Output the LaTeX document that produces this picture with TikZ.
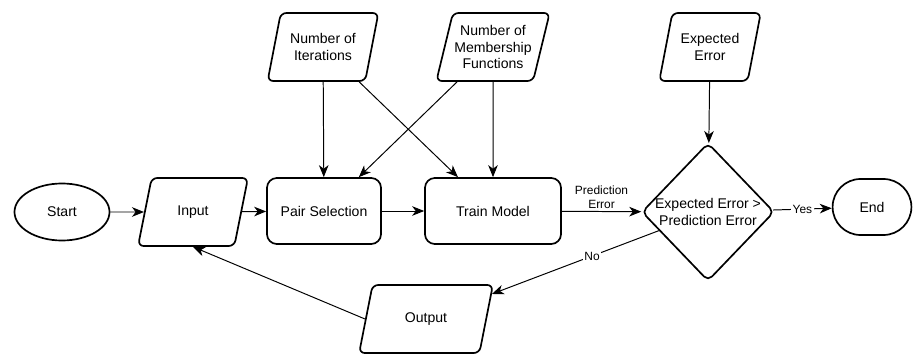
\documentclass[tikz,border=0pt]{standalone}
\usepackage{fontspec}
\setmainfont{Liberation Sans}
\usetikzlibrary{shapes,arrows.meta}

\begin{document}
\begin{tikzpicture}
  [x=0.025cm,y=-0.025cm,>={Stealth[length=3mm,width=2.4mm,inset=0.9mm]},
   every node/.style={font=\fontsize{10}{11.5}\selectfont,align=center},
   term/.style={ellipse,draw,line width=1.2pt,minimum width=2.375cm,minimum height=1.425cm},
   endbox/.style={rectangle,draw,line width=1.2pt,rounded corners=0.7cm,minimum width=1.97cm,minimum height=1.4cm},
   io/.style={trapezium,trapezium left angle=70,trapezium right angle=110,trapezium stretches=true,
     draw,line width=1.2pt,rounded corners=4pt,minimum height=1.7cm,inner sep=1pt},
   proc/.style={rectangle,draw,line width=1.2pt,rounded corners=7pt,minimum height=1.65cm},
   dec/.style={diamond,draw,line width=1.2pt,rounded corners=4pt,minimum width=3.3cm,minimum height=3.45cm,inner sep=0pt},
   lbl/.style={font=\fontsize{8.5}{10}\selectfont,fill=white,inner sep=1pt}]
  \useasboundingbox (0,0) rectangle (918,354);
  \node[term] (start) at (62,212) {Start};
  \node[io,minimum width=2.75cm] (input) at (193,212) {Input};
  \node[proc,minimum width=2.85cm] (pair) at (324,211) {Pair Selection};
  \node[proc,minimum width=3.4cm] (train) at (493,211) {Train Model};
  \node[io,minimum width=2.78cm] (iter) at (323,47) {Number of\\Iterations};
  \node[io,minimum width=2.75cm] (memb) at (493,47) {Number of\\Membership\\Functions};
  \node[io,minimum width=2.55cm] (experr) at (710,47) {Expected\\Error};
  \node[dec] (check) at (708,212) {Expected Error >\\Prediction Error};
  \node[endbox] (end) at (872,207) {End};
  \node[io,minimum width=3.35cm] (output) at (426,319) {Output};

  \foreach \from/\to in {start/input,input/pair,pair/train,iter/pair,iter/train,memb/pair,memb/train,experr/check}
    \draw[->,line width=0.7pt] (\from) -- (\to);

  \draw[->,line width=0.7pt] (train) -- node[above,font=\fontsize{8.5}{10}\selectfont,inner sep=2pt] (prederr) {Prediction\\Error} (check);
  \draw[->,line width=0.7pt] (check) -- node[lbl] (yes) {Yes} (end);
  \draw[->,line width=0.7pt] (check) -- node[lbl,pos=0.4] (no) {No} (output);
  \draw[->,line width=0.7pt] (output.west) -- (input.south);
\end{tikzpicture}
\end{document}
